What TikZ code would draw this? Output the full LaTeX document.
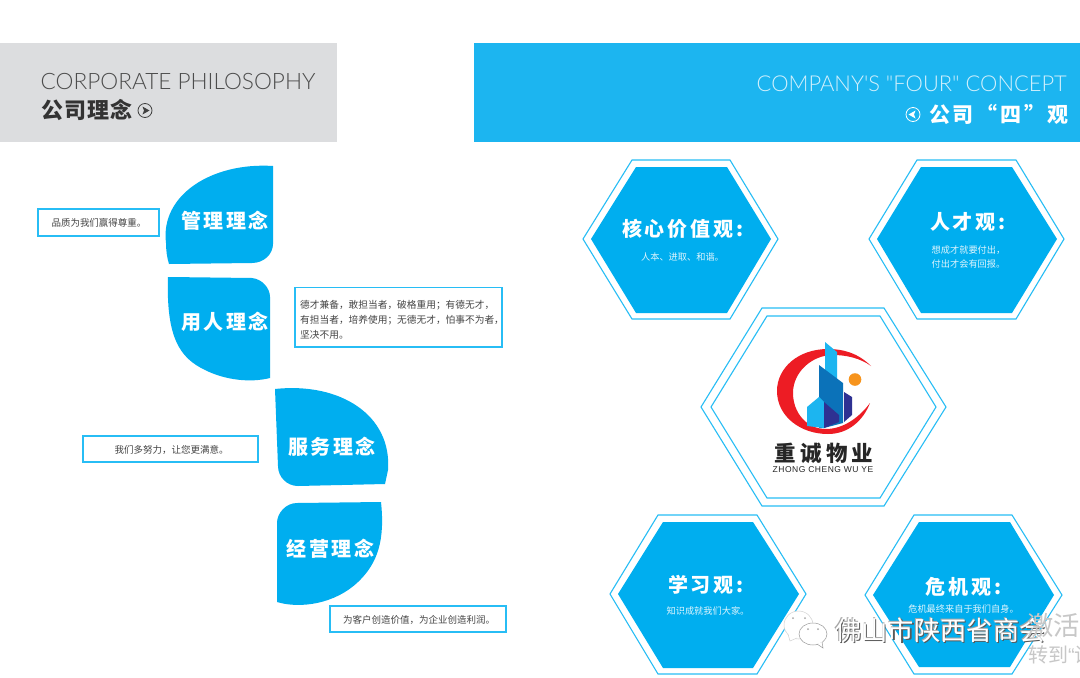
\documentclass[tikz,border=0pt]{standalone}
\usepackage{fontspec}
\setmainfont{Liberation Sans}
\newfontfamily\cjk{Noto Sans CJK SC}
\newfontfamily\cjkpetal[LetterSpace=12]{Noto Sans CJK SC}
\newfontfamily\cjkhex[LetterSpace=14]{Noto Sans CJK SC}
\newfontfamily\cjktitle[LetterSpace=5]{Noto Sans CJK SC}
\newfontfamily\cjkband[LetterSpace=13]{Noto Sans CJK SC}
\newfontfamily\cjklogo[LetterSpace=20]{Noto Sans CJK SC}
\newfontfamily\latwide[LetterSpace=6]{Liberation Sans}
\newfontfamily\thinlat{Lato Light}
\definecolor{petal}{HTML}{00AEEF}
\definecolor{banner}{HTML}{1CB5F0}
\definecolor{greyband}{HTML}{DCDDDF}
\definecolor{boxline}{HTML}{27BDF5}
\definecolor{inktext}{HTML}{444444}
\definecolor{logored}{HTML}{ED1C24}
\definecolor{logomid}{HTML}{0B72B9}
\definecolor{logonavy}{HTML}{2E3192}
\definecolor{logoorange}{HTML}{F7941D}
\tikzset{
  petalshape/.style={fill=petal,draw=none},
  hexouter/.style={draw=boxline,line width=1.1pt,fill=white,line join=miter},
  hexinner/.style={fill=petal,draw=none},
  hexthin/.style={draw=boxline,line width=1.1pt,fill=white},
  notebox/.style={draw=boxline,line width=1.4pt,fill=white},
  bodytext/.style={text=inktext,font=\cjk\fontsize{9.5}{15}\selectfont,inner sep=0pt},
  petaltext/.style={text=white,font=\cjkpetal\bfseries\fontsize{20}{23}\selectfont,inner sep=0pt},
  hextitle/.style={text=white,font=\cjkhex\bfseries\fontsize{20}{24}\selectfont,inner sep=0pt,anchor=west},
  hexbody/.style={text=white!88!petal,font=\cjk\fontsize{9.2}{14}\selectfont,align=center,inner sep=0pt},
  latintitle/.style={inner sep=0pt},
  wmark/.style={font=\cjk\fontsize{26.3}{30}\selectfont,inner sep=0pt,anchor=west},
}
\begin{document}
\begin{tikzpicture}[x=1pt,y=-1pt]
\path[use as bounding box,fill=white] (0,0) rectangle (1080,678);
\begin{scope}
\clip (0,0) rectangle (1080,678);
% bands
\fill[greyband] (0,43) rectangle (337,142);
\fill[banner] (474,43) rectangle (1080,142);
\node[latintitle,font=\thinlat\fontsize{22.6}{26}\selectfont,text=black!70,anchor=west] (t1) at (40.5,82) {CORPORATE PHILOSOPHY};
\node[inner sep=0pt,font=\cjktitle\bfseries\fontsize{22}{24}\selectfont,text=black!80,anchor=west] (t2) at (41,110.5) {公司理念};
\draw[black!75,line width=.8pt] (145,110.5) circle (7);
\fill[black!75] (142.5,106.5) -- (149.5,110.5) -- (142.5,114.5) -- (144,110.5) -- cycle;
\node[latintitle,font=\thinlat\fontsize{21.9}{26}\selectfont,text=white!80!banner,anchor=east] (t3) at (1067,83.5) {COMPANY'S "FOUR" CONCEPT};
\node[inner sep=0pt,font=\cjkband\bfseries\fontsize{21}{24}\selectfont,text=white,anchor=east] (t4) at (1069,114.5) {公司“四”观};
\draw[white,line width=.8pt] (913,114.5) circle (7);
\fill[white] (915.5,110.5) -- (908.5,114.5) -- (915.5,118.5) -- (914,114.5) -- cycle;
% petals
\path[petalshape] (273,166) .. controls (212,162) and (160,195) .. (166,243)
  .. controls (166,250) and (167,258) .. (169,264) -- (252,263)
  .. controls (264,263) and (273,254) .. (273,244) -- cycle;
\path[petalshape] (169,277) -- (252,278) .. controls (262,279) and (270,288) .. (270,297)
  -- (270,378) .. controls (250,383) and (225,380) .. (205,370)
  .. controls (180,358) and (166,338) .. (168,277) -- cycle;
\path[petalshape] (275,389) .. controls (340,382) and (392,415) .. (388,470) -- (385,484)
  -- (298,486) .. controls (287,486) and (278,477) .. (278,466) -- cycle;
\path[petalshape] (381,502) -- (297,503) .. controls (286,503) and (277,513) .. (277,523)
  -- (277,602) .. controls (300,609) and (335,604) .. (358,582)
  .. controls (378,563) and (385,540) .. (381,502) -- cycle;
\node[petaltext] (p1) at (225,221) {管理理念};
\node[petaltext] (p2) at (225,322) {用人理念};
\node[petaltext] (p3) at (332,446.5) {服务理念};
\node[petaltext] (p4) at (330.5,549) {经营理念};
% note boxes
\path[notebox] (38,209) rectangle (159,236);
\path[notebox] (295,287.5) rectangle (502,347);
\path[notebox] (83,436) rectangle (258,462);
\path[notebox] (330,606) rectangle (506,632);
\node[bodytext] (n1) at (99,223) {品质为我们赢得尊重。};
\node[bodytext,align=left,anchor=west,font=\cjk\fontsize{9.7}{15.2}\selectfont] (n2) at (300,320) {德才兼备，敢担当者，破格重用；有德无才，\\有担当者，培养使用；无德无才，怕事不为者，\\坚决不用。};
\node[bodytext] (n3) at (171.5,450) {我们多努力，让您更满意。};
\node[bodytext] (n4) at (419,620) {为客户创造价值，为企业创造利润。};
% hexagons
\path[hexouter] (583,239) -- (632,160) -- (730,160) -- (778,239) -- (730,319) -- (632,319) -- cycle;
\path[hexinner] (591,239) -- (636,167) -- (727,167) -- (771,239) -- (727,313) -- (636,313) -- cycle;
\path[hexouter] (869,239) -- (917,160) -- (1016,160) -- (1064,239) -- (1016,319) -- (917,319) -- cycle;
\path[hexinner] (877,239) -- (921,167) -- (1012,167) -- (1057,239) -- (1012,313) -- (921,313) -- cycle;
\path[hexthin] (701,407) -- (762,308) -- (884,308) -- (946,407) -- (884,506) -- (762,506) -- cycle;
\path[hexthin] (711,407) -- (767,316) -- (880,316) -- (936,407) -- (880,498) -- (767,498) -- cycle;
\path[hexouter] (610,594) -- (658,515) -- (757,515) -- (806,594) -- (757,674) -- (658,674) -- cycle;
\path[hexinner] (618,594) -- (663,522) -- (753,522) -- (799,594) -- (753,668) -- (663,668) -- cycle;
\path[hexouter] (865,595) -- (914,515) -- (1012,515) -- (1062,595) -- (1012,674) -- (914,674) -- cycle;
\path[hexinner] (873,595) -- (919,522) -- (1010,522) -- (1054,595) -- (1010,667) -- (919,667) -- cycle;
\node[hextitle] (h1) at (622,229) {核心价值观:};
\node[hexbody] (h1b) at (682.5,257) {人本、进取、和谐。};
\node[hextitle] (h2) at (930,221.5) {人才观:};
\node[hexbody] (h2b) at (968.5,257) {想成才就要付出，\\付出才会有回报。};
\node[hextitle] (h3) at (668,584.5) {学习观:};
\node[hexbody] (h3b) at (708,611) {知识成就我们大家。};
\node[hextitle] (h4) at (925.5,587) {危机观:};
\node[hexbody] (h4b) at (963.5,609) {危机最终来自于我们自身。};
% logo
\fill[logored] (871,366) .. controls (858,353) and (843,349) .. (828,349)
  .. controls (798,349) and (777,368) .. (777,391)
  .. controls (777,416) and (800,434) .. (828,434)
  .. controls (848,434) and (863,421) .. (870,403)
  .. controls (858,419) and (842,429) .. (826,429)
  .. controls (806,429) and (793,412) .. (793,393)
  .. controls (793,372) and (812,355) .. (833,355)
  .. controls (846,355) and (860,358) .. (871,366) -- cycle;
\fill[banner] (825,342) -- (837,352) -- (837,392) -- (825,382) -- cycle;
\fill[logomid] (819,365) -- (843,383) -- (843,423) -- (824,428) -- (819,428) -- cycle;
\fill[banner] (807,407) -- (819,397) -- (824,402) -- (824,428) -- (807,426) -- cycle;
\fill[logonavy] (824,402) -- (839,415) -- (839,422) -- (824,428) -- cycle;
\fill[logonavy] (844,392) -- (852,397) -- (852,415) -- (844,422) -- cycle;
\fill[logoorange] (855,379.5) circle (6.3);
\node[inner sep=0pt,text=black!85,font=\cjklogo\bfseries\fontsize{21.5}{24}\selectfont] (lg) at (824,453) {重诚物业};
\node[inner sep=0pt,text=black!85,font=\latwide\fontsize{8.5}{9}\selectfont] (lgl) at (823,470) {ZHONG CHENG WU YE};
% watermark
\begin{scope}[line width=.5pt]
\filldraw[draw=black!18,fill=white] (798.5,625) ellipse (14.5 and 14);
\filldraw[draw=black!18,fill=white] (788,634) -- (790,641) -- (797,638);
\filldraw[draw=black!40,fill=white] (813,634) ellipse (14 and 11);
\filldraw[draw=black!40,fill=white] (817,644) -- (823,648) -- (822,642);
\fill[black!35] (793,618) circle (1) (805,618) circle (1) (808,629) circle (1) (818,629) circle (1);
\end{scope}
\node[wmark,text=black!65] (w0) at (836.2,631.2) {佛山市陕西省商会};
\node[wmark,text=black!35] (w00) at (834.5,629.5) {佛山市陕西省商会};
\node[wmark,text=white] (w1) at (835,630) {佛山市陕西省商会};
\node[wmark,text=black!22] (w2) at (1027,625) {激活};
\node[wmark,text=black!22,font=\cjk\fontsize{20}{22}\selectfont] (w3) at (1028,655) {转到{\rmfamily “}设};
\end{scope}
\end{tikzpicture}
\end{document}
